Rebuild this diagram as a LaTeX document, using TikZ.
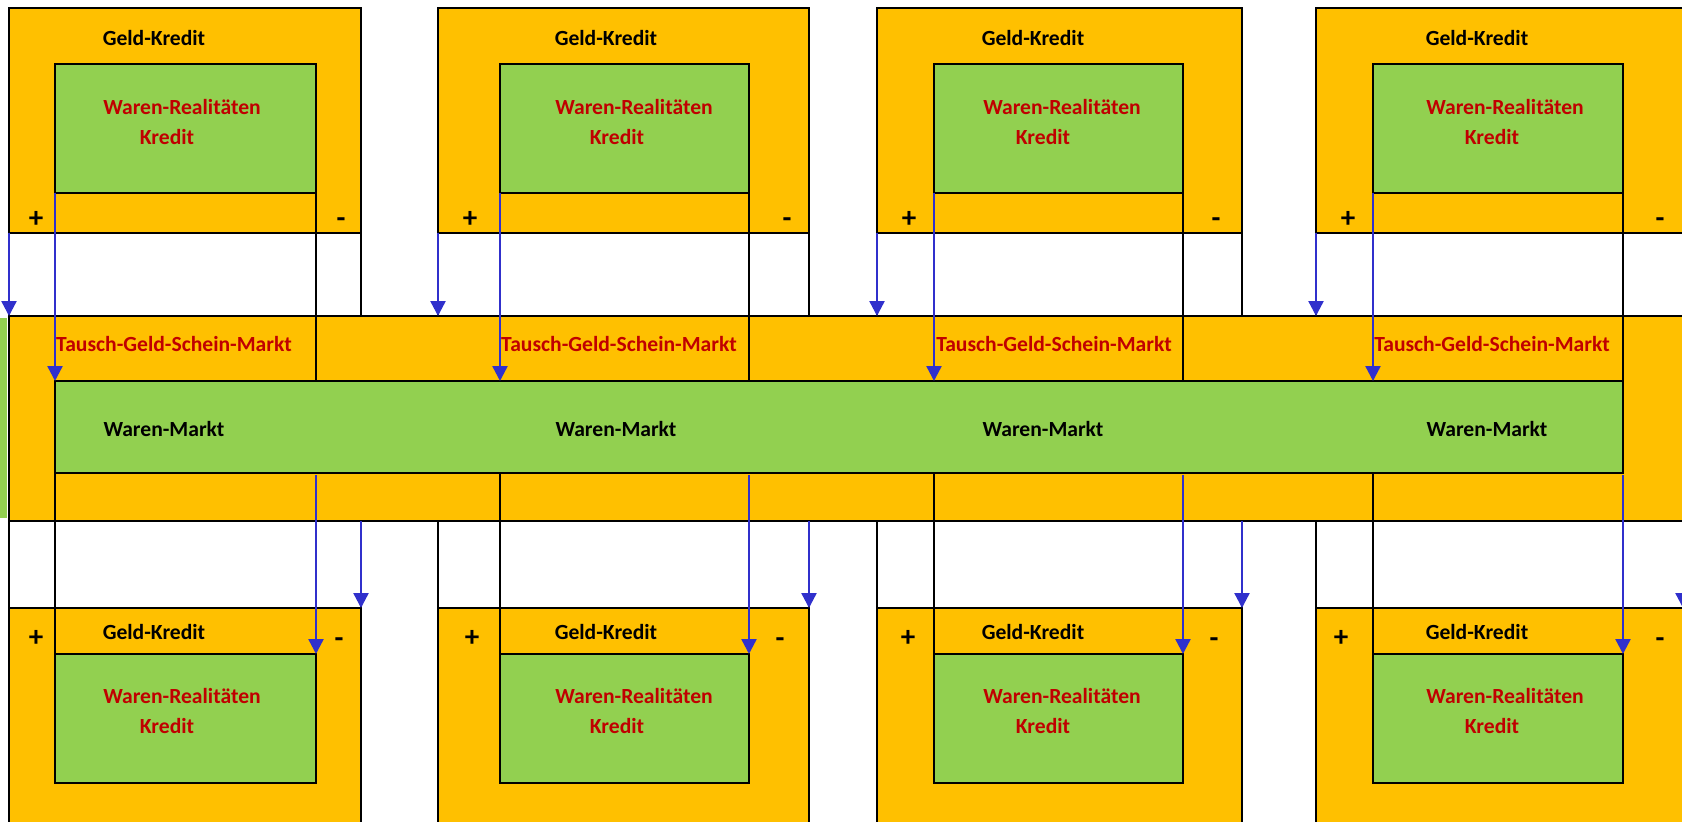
\documentclass[tikz,border=0pt]{standalone}
\usepackage{fontspec}
\setmainfont{Carlito}
\usetikzlibrary{arrows.meta}
\definecolor{gold}{RGB}{255,192,0}
\definecolor{lgreen}{RGB}{146,208,80}
\definecolor{dred}{RGB}{192,0,0}
\definecolor{flowblue}{RGB}{48,48,204}
\begin{document}
\begin{tikzpicture}[x=1pt,y=-1pt,
  box/.style={draw=black,line width=2pt},
  flow/.style={draw=flowblue,line width=2.4pt,-{Triangle[width=15pt,length=15pt]}},
  lbl/.style={font=\fontsize{21.6}{25}\selectfont\bfseries,inner sep=0pt,anchor=base},
  blk/.style={lbl,text=black},
  rd/.style={lbl,text=dred},
  sgn/.style={blk,font=\fontsize{29}{30}\selectfont\bfseries}]
\useasboundingbox (0,0) rectangle (1682,822);
\clip (0,0) rectangle (1682,822);
% middle band
\fill[lgreen] (0,318) rectangle (7,518);
\draw[box,fill=gold] (9,316) rectangle (1700,521);
\draw[box,fill=lgreen] (55,381) rectangle (1623,473);
\foreach \cc/\oL/\iL/\iR/\oR/\gK/\wR/\kR/\wM/\tS/\pT/\mT/\pB/\mB in {
  1/9/55/316/361/154/182/167/164/174/36/341/36/339,
  2/438/500/749/809/606/634/617/616/619/470/787/472/780,
  3/877/934/1183/1242/1033/1062/1043/1043/1054/909/1216/908/1214,
  4/1316/1373/1623/1683/1477/1505/1492/1487/1492/1348/1660/1341/1660} {
  % top box
  \draw[box,fill=gold] (\oL,8) rectangle (\oR,233);
  \draw[box,fill=lgreen] (\iL,64) rectangle (\iR,193);
  \draw[box] (\oL,233) rectangle (\oR,316);
  \coordinate (ta\cc) at (\oL,233);
  \coordinate (tb\cc) at (\oL,316);
  \coordinate (tc\cc) at (\iL,193);
  \coordinate (td\cc) at (\iL,381);
  \coordinate (te\cc) at (\iR,193);
  \coordinate (tf\cc) at (\iR,381);
  \draw[box] (te\cc) -- (tf\cc);
  \draw[flow] (ta\cc) -- (tb\cc);
  \draw[flow] (tc\cc) -- (td\cc);
  % bottom box
  \draw[box,fill=gold] (\oL,608) rectangle (\oR,830);
  \draw[box,fill=lgreen] (\iL,654) rectangle (\iR,783);
  \draw[box] (\oL,521) rectangle (\oR,608);
  \coordinate (ba\cc) at (\iL,473);
  \coordinate (bb\cc) at (\iL,654);
  \coordinate (bc\cc) at (\iR,475);
  \coordinate (bd\cc) at (\iR,654);
  \coordinate (be\cc) at (\oR,521);
  \coordinate (bf\cc) at (\oR,608);
  \draw[box] (ba\cc) -- (bb\cc);
  \draw[flow] (bc\cc) -- (bd\cc);
  \draw[flow] (be\cc) -- (bf\cc);
  % texts
  \node[blk] (gkt\cc) at (\gK,45) {Geld-Kredit};
  \node[rd] (wrt\cc) at (\wR,114) {Waren-Realitäten};
  \node[rd] (krt\cc) at (\kR,144) {Kredit};
  \node[sgn] (plt\cc) at (\pT,227) {+};
  \node[sgn] (mit\cc) at (\mT,227) {-};
  \node[rd] (tgs\cc) at (\tS,351) {Tausch-Geld-Schein-Markt};
  \node[blk] (wmk\cc) at (\wM,436) {Waren-Markt};
  \node[blk] (gkb\cc) at (\gK,639) {Geld-Kredit};
  \node[rd] (wrb\cc) at (\wR,703) {Waren-Realitäten};
  \node[rd] (krb\cc) at (\kR,733) {Kredit};
  \node[sgn] (plb\cc) at (\pB,646) {+};
  \node[sgn] (mib\cc) at (\mB,647) {-};
}
\end{tikzpicture}
\end{document}
